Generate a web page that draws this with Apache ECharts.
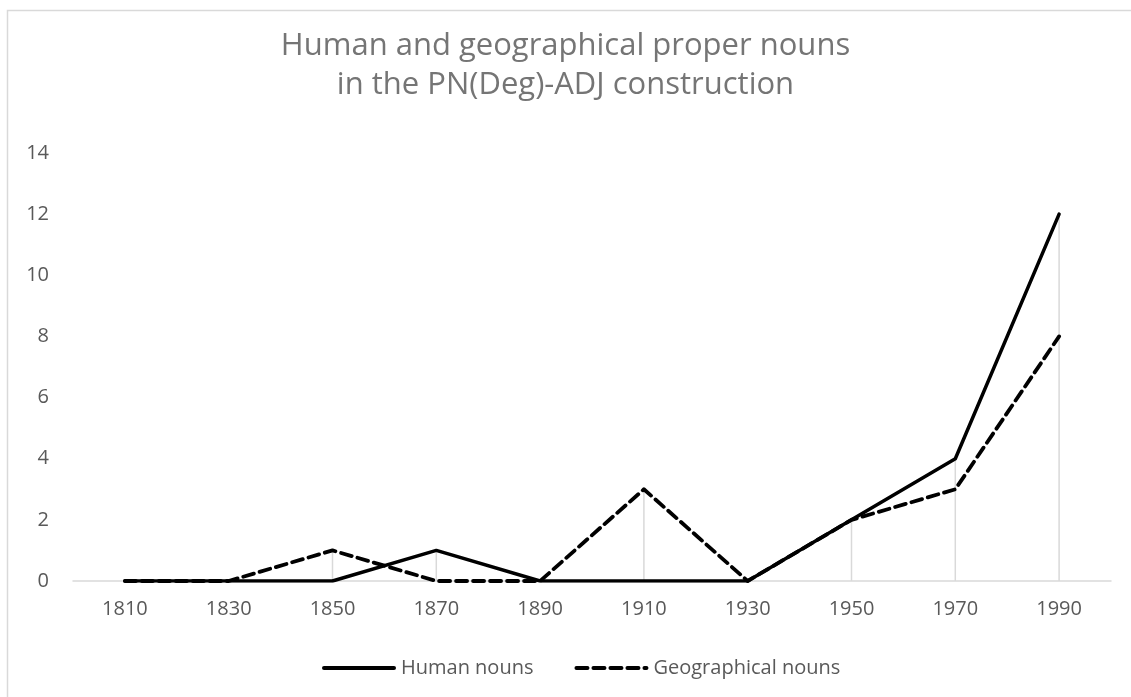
<!DOCTYPE html>
<html>
<head>
<meta charset="utf-8">
<script src="https://cdn.jsdelivr.net/npm/echarts@6/dist/echarts.min.js"></script>
<style>
html,body{margin:0;padding:0;background:#fff;}
#chart{width:1131px;height:697px;}
</style>
</head>
<body>
<div id="chart"></div>
<script>
var decades=['1810','1830','1850','1870','1890','1910','1930','1950','1970','1990'];
var humanNouns=[0,0,0,1,0,0,0,2,4,12];
var geoNouns=[0,0,1,0,0,3,0,2,3,8];
var yTicks=[0,2,4,6,8,10,12,14];

// drop lines go up to the higher of the two series
var dropLines=[];
for(var i=0;i<decades.length;i++){
    dropLines.push(Math.max(humanNouns[i],geoNouns[i]));
}

var font='"Open Sans", "Noto Sans", sans-serif';
var myChart=echarts.init(document.getElementById('chart'));
var option={
    animation:false,
    backgroundColor:'#fff',
    title:{
        text:'Human and geographical proper nouns\nin the PN(Deg)-ADJ construction',
        left:'center',
        top:22,
        textStyle:{
            color:'#757575',
            fontFamily:font,
            fontWeight:'normal',
            fontSize:31,
            lineHeight:39
        }
    },
    graphic:[{
        type:'rect',
        shape:{x:7.5,y:10.5,width:1140,height:700},
        style:{fill:'none',stroke:'#d9d9d9',lineWidth:1.5},
        silent:true
    }],
    legend:{
        top:653,
        left:317,
        itemWidth:70,
        itemHeight:20,
        itemGap:41,
        itemStyle:{opacity:0},
        lineStyle:{width:4},
        textStyle:{color:'#595959',fontFamily:font,fontSize:20,padding:[0,0,0,2]},
        data:['Human nouns','Geographical nouns']
    },
    grid:{left:73,right:20,top:153,bottom:116},
    xAxis:{
        type:'category',
        data:decades,
        boundaryGap:true,
        axisLine:{lineStyle:{color:'#d9d9d9',width:1.5}},
        axisTick:{show:false},
        axisLabel:{color:'#595959',fontFamily:font,fontSize:20,margin:18}
    },
    yAxis:{
        type:'value',
        min:yTicks[0],
        max:yTicks[yTicks.length-1],
        interval:2,
        axisLine:{show:false},
        axisTick:{show:false},
        splitLine:{show:false},
        axisLabel:{color:'#595959',fontFamily:font,fontSize:20,margin:24}
    },
    series:[
        {
            name:'drop',
            type:'bar',
            data:dropLines,
            barWidth:1.5,
            itemStyle:{color:'#d9d9d9'},
            silent:true,
            z:1
        },
        {
            name:'Human nouns',
            type:'line',
            data:humanNouns,
            symbol:'none',
            lineStyle:{color:'#000',width:3.5,cap:'round',join:'round'},
            itemStyle:{color:'#000'},
            z:3
        },
        {
            name:'Geographical nouns',
            type:'line',
            data:geoNouns,
            symbol:'none',
            lineStyle:{color:'#000',width:3.8,type:[11,6],cap:'round',join:'round'},
            itemStyle:{color:'#000'},
            z:2
        }
    ]
};
myChart.setOption(option);
</script>
</body>
</html>
